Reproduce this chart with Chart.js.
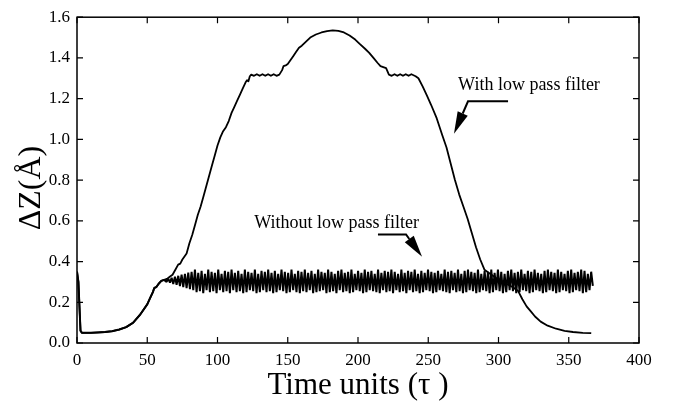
<!DOCTYPE html>
<html><head><meta charset="utf-8">
<script src="https://cdn.jsdelivr.net/npm/chart.js@4/dist/chart.umd.min.js"></script>
<style>html,body{margin:0;padding:0;background:#fff}#wrap{width:678px;height:405px}</style>
</head><body><div id="wrap"><canvas id="c" width="678" height="405"></canvas></div>
<script>
// Shared start of both runs (time, ΔZ)
const startTimes = [0,1,2.5,3.5,5,10,15,20,25,30,35,40,45,50,52,54,55,56.5,58,60,62];
const startValues = [0.35,0.30,0.06,0.05,0.05,0.05,0.052,0.054,0.058,0.066,0.078,0.10,0.14,0.19,0.22,0.25,0.27,0.275,0.29,0.305,0.31];

// With low pass filter (continuation)
const filteredTimes = [64,66,68,70,72,73.5,75,77,78,80,
 82,84,86,88,90,92,94,96,98,100,
 102,104,106,108,110,112,114,116,118,120,
 121,122,123,124,126,128,130,132,134,136,
 138,140,142,144,146,147,149,150,152,154,
 156,158,160,163,166,170,174,178,182,186,
 190,194,198,201,205,208,211,214,216,218,
 220,222,224,226,228,230,232,234,236,238,
 239.5,241,243,246,249,252,256,260,263,266,
 269,272,275,278,281,284,287,290,294,298,
 302,306,310,314,317,320,323,326,330,335,
 341,347,353,360,366];
const filteredValues = [0.315,0.325,0.335,0.36,0.385,0.39,0.41,0.43,0.44,0.49,
 0.53,0.58,0.63,0.67,0.72,0.77,0.82,0.87,0.92,0.97,
 1.01,1.04,1.06,1.09,1.13,1.16,1.19,1.22,1.25,1.28,
 1.29,1.285,1.31,1.318,1.312,1.32,1.312,1.32,1.312,1.32,
 1.312,1.32,1.312,1.318,1.34,1.36,1.365,1.37,1.39,1.41,
 1.43,1.45,1.46,1.48,1.50,1.515,1.525,1.532,1.535,1.533,
 1.525,1.51,1.49,1.47,1.445,1.425,1.40,1.375,1.36,1.355,
 1.35,1.318,1.312,1.32,1.312,1.32,1.312,1.32,1.312,1.32,
 1.315,1.31,1.30,1.26,1.216,1.17,1.104,1.02,0.96,0.88,
 0.80,0.73,0.67,0.61,0.54,0.47,0.41,0.36,0.34,0.32,
 0.305,0.29,0.275,0.255,0.215,0.18,0.155,0.13,0.105,0.085,
 0.07,0.06,0.054,0.05,0.048];

// Without low pass filter: oscillating samples (peaks/troughs) after the start
const rawOscStart = 62.6;
const rawOscStep = 1.185;
const rawOscValues = [
 0.31,0.30,0.316,0.296,0.32,0.29,0.326,0.286,0.33,0.28,0.336,0.274,0.34,0.27,0.346,0.264,0.35,0.26,
 0.36,0.25,0.345,0.255,0.355,0.245,0.34,0.26,0.36,0.25,0.35,0.255,0.345,0.245,0.36,0.26,0.34,0.25,0.355,0.255,
 0.35,0.245,0.36,0.26,0.345,0.25,0.355,0.255,0.34,0.245,0.36,0.25,0.35,0.26,0.345,0.255,0.36,0.245,0.34,0.25,
 0.355,0.26,0.35,0.25,0.36,0.255,0.345,0.245,0.355,0.25,0.34,0.26,0.36,0.255,0.35,0.245,0.345,0.25,0.36,0.26,
 0.34,0.25,0.355,0.245,0.35,0.255,0.36,0.25,0.345,0.26,0.355,0.245,0.34,0.25,0.36,0.255,0.35,0.26,0.345,0.245,
 0.36,0.25,0.35,0.255,0.34,0.245,0.355,0.26,0.36,0.25,0.345,0.255,0.35,0.245,0.36,0.25,0.34,0.26,0.355,0.255,
 0.345,0.245,0.36,0.25,0.35,0.26,0.355,0.255,0.34,0.25,0.36,0.245,0.345,0.26,0.355,0.25,0.35,0.255,0.36,0.245,
 0.35,0.26,0.34,0.25,0.36,0.255,0.345,0.245,0.355,0.26,0.35,0.25,0.36,0.255,0.34,0.245,0.355,0.25,0.345,0.26,
 0.36,0.255,0.35,0.245,0.345,0.25,0.355,0.26,0.34,0.255,0.36,0.25,0.35,0.245,0.355,0.26,0.345,0.25,0.36,0.255,
 0.34,0.245,0.355,0.25,0.36,0.26,0.35,0.255,0.345,0.245,0.36,0.25,0.34,0.26,0.355,0.255,0.35,0.245,0.36,0.25,
 0.345,0.26,0.36,0.255,0.35,0.245,0.34,0.25,0.355,0.26,0.36,0.255,0.345,0.245,0.35,0.25,0.36,0.26,0.34,0.255,
 0.355,0.245,0.35,0.25,0.36,0.26,0.345,0.255,0.34,0.245,0.355,0.25,0.36,0.26,0.35,0.255,0.345,0.245,0.36,0.25,
 0.35,0.26,0.34,0.255,0.355,0.245,0.36,0.25,0.345,0.26,0.35,0.255,0.36,0.245,0.355,0.25,0.34,0.26,0.35,0.28
];

const xTickValues = [0,50,100,150,200,250,300,350,400];
const yTickValues = [0,0.2,0.4,0.6,0.8,1.0,1.2,1.4,1.6];
const labelTexts = ['With low pass filter','Without low pass filter'];
const xTitle = 'Time units (\u03C4 )';
const yTitle = '\u0394Z(\u00C5)\u2002';

const startPts = startTimes.map((t,i)=>({x:t,y:startValues[i]}));
const filteredData = startPts.concat(filteredTimes.map((t,i)=>({x:t,y:filteredValues[i]})));
const rawData = startPts.concat(rawOscValues.map((v,i)=>({x:rawOscStart+i*rawOscStep,y:v})));

const SERIF = "'Liberation Serif','Times New Roman',serif";
Chart.defaults.font.family = SERIF;
Chart.defaults.color = '#000';

const annotate = {
  id:'annotate',
  afterDatasetsDraw(chart){
    const {ctx, chartArea:a, scales:{x,y}} = chart;
    ctx.save();
    ctx.strokeStyle='#000';
    ctx.lineWidth=1.5;
    ctx.strokeRect(a.left, a.top, a.right-a.left, a.bottom-a.top);
    ctx.lineWidth=1.2;
    ctx.beginPath();
    x.ticks.forEach(t=>{const p=x.getPixelForValue(t.value);
      ctx.moveTo(p,a.bottom);ctx.lineTo(p,a.bottom-6);ctx.moveTo(p,a.top);ctx.lineTo(p,a.top+6);});
    y.ticks.forEach(t=>{const p=y.getPixelForValue(t.value);
      ctx.moveTo(a.left,p);ctx.lineTo(a.left+6,p);ctx.moveTo(a.right,p);ctx.lineTo(a.right-6,p);});
    ctx.stroke();

    const P=(dx,dy)=>[x.getPixelForValue(dx),y.getPixelForValue(dy)];
    ctx.font = "18px " + SERIF;
    ctx.fillStyle='#000';
    ctx.textAlign='center';
    ctx.textBaseline='middle';
    const notes = [
      {text:labelTexts[0], at:[321.7,1.264], path:[[306.8,1.187],[278.3,1.187]], tip:[268.3,1.028]},
      {text:labelTexts[1], at:[184.8,0.586], path:[[214.2,0.533],[234.2,0.533]], tip:[245.6,0.423]}
    ];
    notes.forEach(n=>{
      const [tx,ty]=P(...n.at);
      ctx.fillText(n.text,tx,ty);
      const pts=n.path.map(p=>P(...p));
      const [hx,hy]=P(...n.tip);
      const [bx,by]=pts[pts.length-1];
      const dx=hx-bx, dy=hy-by, L=Math.hypot(dx,dy), ux=dx/L, uy=dy/L;
      const len=22, hw=5.5;
      const cx=hx-ux*len, cy=hy-uy*len;
      ctx.lineWidth=2;
      ctx.beginPath();
      ctx.moveTo(pts[0][0],pts[0][1]);
      for(let i=1;i<pts.length;i++) ctx.lineTo(pts[i][0],pts[i][1]);
      ctx.lineTo(cx,cy);
      ctx.stroke();
      ctx.beginPath();
      ctx.moveTo(hx,hy);
      ctx.lineTo(cx-uy*hw,cy+ux*hw);
      ctx.lineTo(cx+uy*hw,cy-ux*hw);
      ctx.closePath();
      ctx.fill();
    });
    ctx.restore();
  }
};

new Chart(document.getElementById('c'),{
  type:'line',
  data:{datasets:[
    {label:'Without low pass filter',data:rawData,borderColor:'#000',borderWidth:2,borderJoinStyle:'bevel',pointRadius:0,tension:0,fill:false},
    {label:'With low pass filter',data:filteredData,borderColor:'#000',borderWidth:1.8,borderJoinStyle:'round',pointRadius:0,tension:0,fill:false}
  ]},
  options:{
    responsive:false,animation:false,devicePixelRatio:1,
    layout:{padding:{left:0,top:10,right:39,bottom:0}},
    plugins:{legend:{display:false},tooltip:{enabled:false}},
    scales:{
      x:{type:'linear',min:0,max:400,
        afterBuildTicks(s){s.ticks=xTickValues.map(v=>({value:v}));},
        afterFit(s){s.height=62;},
        grid:{display:false,drawTicks:false},border:{display:false},
        ticks:{font:{size:17},color:'#000',padding:7,maxRotation:0},
        title:{display:true,text:xTitle,font:{size:31},color:'#000',padding:{top:0,bottom:1}}},
      y:{type:'linear',min:0,max:1.6,
        afterBuildTicks(s){s.ticks=yTickValues.map(v=>({value:v}));},
        afterFit(s){s.width=77;},
        grid:{display:false,drawTicks:false},border:{display:false},
        ticks:{font:{size:17},color:'#000',padding:7,callback:v=>v.toFixed(1)},
        title:{display:true,text:yTitle,font:{size:32},color:'#000',padding:{top:12,bottom:0}}}
    }
  },
  plugins:[annotate]
});
</script></body></html>
